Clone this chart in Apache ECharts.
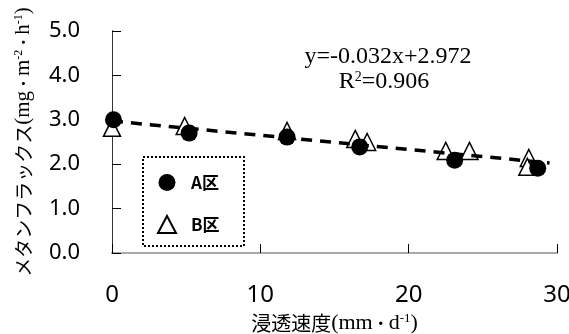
<!DOCTYPE html>
<html><head><meta charset="utf-8">
<script src="https://cdn.jsdelivr.net/npm/echarts@6/dist/echarts.min.js"></script>
<style>html,body{margin:0;padding:0;background:#fff}#c{width:569px;height:334px}</style>
</head><body><div id="c"></div>
<script>
const seriesA = [[0.1,3.00],[5.2,2.70],[11.8,2.61],[16.7,2.39],[23.1,2.09],[28.7,1.91]];
const seriesB = [[0.0,2.82],[4.9,2.86],[11.8,2.75],[16.4,2.57],[17.2,2.50],[22.5,2.30],[24.1,2.30],[28.1,2.14],[28.0,1.94]];
const trendLine = [[0,2.972],[29.5,2.028]];
const xTicks = [0,10,20,30];
const yTicks = [0,1,2,3,4,5];
const eqText = 'y=-0.032x+2.972';
const r2Text = '0.906';

const chart = echarts.init(document.getElementById('c'));
const jp = '"Noto Sans CJK JP"';
const serif = '"Liberation Serif"';
chart.setOption({
  animation:false,
  grid:{left:112,right:12,top:31,bottom:81,containLabel:false,outerBoundsMode:'none'},
  xAxis:[{type:'value',min:0,max:30,interval:10,
    axisLine:{lineStyle:{color:'#000',width:1}},
    axisTick:{inside:true,length:9,lineStyle:{color:'#000'}},
    splitLine:{show:false},
    axisLabel:{margin:30,fontSize:24,color:'#000',fontFamily:'"Noto Sans"'},
    name:'{j|浸透速度}{s|(mm}{d|・}{s|d}{sup|-1}{s|)}',nameLocation:'middle',nameGap:59,
    nameTextStyle:{rich:{j:{fontFamily:jp,fontSize:20,color:'#000'},d:{fontFamily:jp,fontSize:16,color:'#000'},s:{fontFamily:serif,fontSize:22,color:'#000'},sup:{fontFamily:serif,fontSize:13,color:'#000',verticalAlign:'top'}}}
  },{type:'value',position:'top',min:0,max:30,axisLine:{show:true,lineStyle:{color:'#aaa',width:2}},axisTick:{show:false},axisLabel:{show:false},splitLine:{show:false}}],
  yAxis:[{type:'value',min:0,max:5,interval:1,
    axisLine:{show:true,lineStyle:{color:'#000',width:1}},
    axisTick:{show:true,inside:true,length:9,lineStyle:{color:'#000'}},
    splitLine:{show:false},
    axisLabel:{margin:63,align:'left',fontSize:22,color:'#000',fontFamily:'"Noto Sans"',formatter:v=>v.toFixed(1)},
    name:'{j|メタンフラックス}{s|(mg}{d|・}{s|m}{sup|-2}{d|・}{s|h}{sup|-1}{s|)}',nameLocation:'middle',nameGap:78,nameRotate:90,
    nameTextStyle:{rich:{j:{fontFamily:jp,fontSize:19,color:'#000'},d:{fontFamily:jp,fontSize:15,color:'#000'},s:{fontFamily:serif,fontSize:21,color:'#000'},sup:{fontFamily:serif,fontSize:12,color:'#000',verticalAlign:'top'}}}
  },{type:'value',position:'right',min:0,max:5,axisLine:{show:true,lineStyle:{color:'#333',width:1}},axisTick:{show:false},axisLabel:{show:false},splitLine:{show:false}}],
  legend:{orient:'vertical',left:152,top:169,itemGap:24,itemWidth:18,itemHeight:17,
    data:['A区','B区'],textStyle:{fontFamily:jp,fontWeight:'bold',fontSize:17,color:'#000',padding:[0,0,0,10]}},
  graphic:[
    {type:'rect',shape:{x:143,y:157,width:101,height:89},style:{fill:'none',stroke:'#000',lineWidth:2,lineDash:[2,2]},z:100},
    {type:'text',x:388,y:57,style:{text:eqText,font:'24px "Liberation Serif"',fill:'#000',textAlign:'center',textVerticalAlign:'middle'},z:100},
    {type:'text',x:384,y:82,style:{text:'{s|R}{sup|2}{s|='+r2Text+'}',textAlign:'center',textVerticalAlign:'middle',rich:{s:{fontFamily:serif,fontSize:24,fill:'#000'},sup:{fontFamily:serif,fontSize:14,fill:'#000',verticalAlign:'top'}}},z:100}
  ],
  series:[
    {name:'B区',type:'scatter',data:seriesB,symbol:'triangle',symbolSize:[17,17],itemStyle:{color:'#fff',borderColor:'#000',borderWidth:1.5,opacity:1},z:2},
    {name:'trend',type:'line',data:trendLine,symbol:'none',lineStyle:{color:'#000',width:3.5,type:[11,8]},z:3,silent:true},
    {name:'A区',type:'scatter',data:seriesA,symbol:'circle',symbolSize:17,itemStyle:{color:'#000',opacity:1},z:4}
  ]
});
</script></body></html>
